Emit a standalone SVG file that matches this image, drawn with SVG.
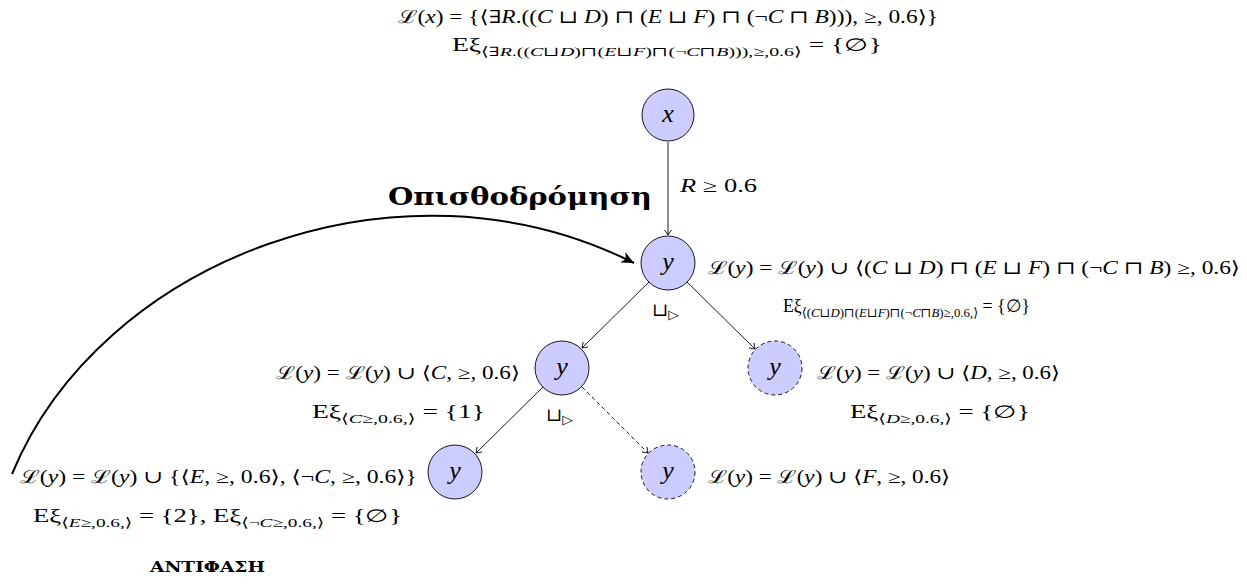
<svg xmlns="http://www.w3.org/2000/svg" width="1247" height="588" viewBox="0 0 1247 588">
<style>
.t{font-family:"Liberation Serif","DejaVu Serif",serif;font-size:18px;fill:#000}
.i{font-style:italic}
.s{font-size:13px}
.nd{fill:#ccccff;stroke:#000;stroke-width:0.9}
.dash{stroke-dasharray:4,3}
.nl{font-family:"Liberation Serif","DejaVu Serif",serif;font-size:26px;font-style:italic;text-anchor:middle}
.e{stroke:#000;stroke-width:0.9;fill:none}
.b{font-family:"DejaVu Serif","Liberation Serif",serif;font-weight:bold;fill:#000}
</style>
<defs>
<marker id="to" markerUnits="userSpaceOnUse" markerWidth="12" markerHeight="12" refX="0" refY="0" viewBox="-8 -6 10 12" orient="auto">
<path d="M-5,-3.5 Q-1.5,-1 0,0 Q-1.5,1 -5,3.5" fill="none" stroke="#000" stroke-width="0.9"/>
</marker>
<marker id="st" markerUnits="userSpaceOnUse" markerWidth="16" markerHeight="16" refX="0" refY="0" viewBox="-12 -7 14 14" orient="auto">
<path d="M0,0 L-11,-5 L-8,0 L-11,5 Z" fill="#000"/>
</marker>
</defs>
<g id="connectors">
<line class="e" x1="668" y1="142" x2="668" y2="235" marker-end="url(#to)"/>
<line class="e" x1="649" y1="282" x2="582" y2="348" marker-end="url(#to)"/>
<line class="e" x1="687" y1="282" x2="755" y2="349" marker-end="url(#to)"/>
<line class="e" x1="543" y1="387" x2="476" y2="453" marker-end="url(#to)"/>
<line class="e dash" x1="582" y1="387" x2="648" y2="453" marker-end="url(#to)"/>
<path d="M12,474 C100,260 400,145 634,263" fill="none" stroke="#000" stroke-width="2" marker-end="url(#st)"/>
</g>
<g id="node-x">
<circle class="nd" cx="668" cy="115" r="26"/>
<text class="nl" x="668" y="122">x</text>
</g>
<g id="node-y1">
<circle class="nd" cx="668" cy="263" r="27"/>
<text class="nl" x="668" y="270">y</text>
</g>
<g id="node-y2">
<circle class="nd" cx="562" cy="368" r="27"/>
<text class="nl" x="562" y="375">y</text>
</g>
<g id="node-y3">
<circle class="nd dash" cx="775" cy="368" r="27"/>
<text class="nl" x="775" y="375">y</text>
</g>
<g id="node-y4">
<circle class="nd" cx="455" cy="472" r="27"/>
<text class="nl" x="455" y="479">y</text>
</g>
<g id="node-y5">
<circle class="nd dash" cx="668" cy="472" r="27"/>
<text class="nl" x="668" y="479">y</text>
</g>
<g id="labels">
<text class="t" x="398" y="23" textLength="540" lengthAdjust="spacingAndGlyphs">ℒ(<tspan class="i">x</tspan>) = {⟨∃<tspan class="i">R</tspan>.((<tspan class="i">C</tspan> ⊔ <tspan class="i">D</tspan>) ⊓ (<tspan class="i">E</tspan> ⊔ <tspan class="i">F</tspan>) ⊓ (¬<tspan class="i">C</tspan> ⊓ <tspan class="i">B</tspan>))), ≥, 0.6⟩}</text>
<text class="t" x="452" y="51" textLength="430" lengthAdjust="spacingAndGlyphs">Eξ<tspan class="s" dy="5">⟨∃<tspan class="i">R</tspan>.((<tspan class="i">C</tspan>⊔<tspan class="i">D</tspan>)⊓(<tspan class="i">E</tspan>⊔<tspan class="i">F</tspan>)⊓(¬<tspan class="i">C</tspan>⊓<tspan class="i">B</tspan>))),≥,0.6⟩</tspan><tspan dy="-5"> = {∅}</tspan></text>
<text class="t" x="680" y="192" textLength="77" lengthAdjust="spacingAndGlyphs"><tspan class="i">R</tspan> ≥ 0.6</text>
<text class="b" x="388" y="205" font-size="25" textLength="264" lengthAdjust="spacingAndGlyphs">Οπισθοδρόμηση</text>
<text class="t" x="708" y="274" textLength="532" lengthAdjust="spacingAndGlyphs">ℒ(<tspan class="i">y</tspan>) = ℒ(<tspan class="i">y</tspan>) ∪ ⟨(<tspan class="i">C</tspan> ⊔ <tspan class="i">D</tspan>) ⊓ (<tspan class="i">E</tspan> ⊔ <tspan class="i">F</tspan>) ⊓ (¬<tspan class="i">C</tspan> ⊓ <tspan class="i">B</tspan>) ≥, 0.6⟩</text>
<text class="t" x="783" y="312" textLength="247" lengthAdjust="spacingAndGlyphs">Eξ<tspan class="s" dy="5">⟨(<tspan class="i">C</tspan>⊔<tspan class="i">D</tspan>)⊓(<tspan class="i">E</tspan>⊔<tspan class="i">F</tspan>)⊓(¬<tspan class="i">C</tspan>⊓<tspan class="i">B</tspan>)≥,0.6,⟩</tspan><tspan dy="-5"> = {∅}</tspan></text>
<text class="t" x="652" y="316" textLength="27" lengthAdjust="spacingAndGlyphs">⊔<tspan class="s" dy="3">▷</tspan></text>
<text class="t" x="276" y="379" textLength="244" lengthAdjust="spacingAndGlyphs">ℒ(<tspan class="i">y</tspan>) = ℒ(<tspan class="i">y</tspan>) ∪ ⟨<tspan class="i">C</tspan>, ≥, 0.6⟩</text>
<text class="t" x="312" y="418" textLength="173" lengthAdjust="spacingAndGlyphs">Eξ<tspan class="s" dy="5">⟨<tspan class="i">C</tspan>≥,0.6,⟩</tspan><tspan dy="-5"> = {1}</tspan></text>
<text class="t" x="546" y="421" textLength="27" lengthAdjust="spacingAndGlyphs">⊔<tspan class="s" dy="3">▷</tspan></text>
<text class="t" x="817" y="379" textLength="243" lengthAdjust="spacingAndGlyphs">ℒ(<tspan class="i">y</tspan>) = ℒ(<tspan class="i">y</tspan>) ∪ ⟨<tspan class="i">D</tspan>, ≥, 0.6⟩</text>
<text class="t" x="850" y="418" textLength="180" lengthAdjust="spacingAndGlyphs">Eξ<tspan class="s" dy="5">⟨<tspan class="i">D</tspan>≥,0.6,⟩</tspan><tspan dy="-5"> = {∅}</tspan></text>
<text class="t" x="20" y="483" textLength="397" lengthAdjust="spacingAndGlyphs">ℒ(<tspan class="i">y</tspan>) = ℒ(<tspan class="i">y</tspan>) ∪ {⟨<tspan class="i">E</tspan>, ≥, 0.6⟩, ⟨¬<tspan class="i">C</tspan>, ≥, 0.6⟩}</text>
<text class="t" x="33" y="522" textLength="369" lengthAdjust="spacingAndGlyphs">Eξ<tspan class="s" dy="5">⟨<tspan class="i">E</tspan>≥,0.6,⟩</tspan><tspan dy="-5"> = {2}, Eξ</tspan><tspan class="s" dy="5">⟨¬<tspan class="i">C</tspan>≥,0.6,⟩</tspan><tspan dy="-5"> = {∅}</tspan></text>
<text class="b" x="150" y="572" font-size="15" textLength="115" lengthAdjust="spacingAndGlyphs">ΑΝΤΙΦΑΣΗ</text>
<text class="t" x="708" y="483" textLength="242" lengthAdjust="spacingAndGlyphs">ℒ(<tspan class="i">y</tspan>) = ℒ(<tspan class="i">y</tspan>) ∪ ⟨<tspan class="i">F</tspan>, ≥, 0.6⟩</text>
</g>
</svg>
